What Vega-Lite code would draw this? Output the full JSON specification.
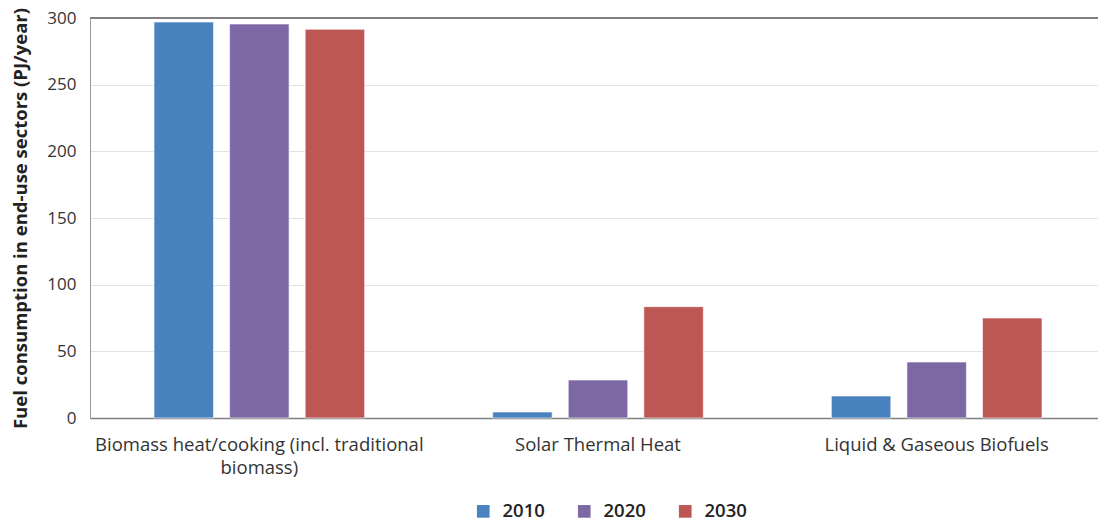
{
  "$schema": "https://vega.github.io/schema/vega-lite/v6.json",
  "autosize": "none",
  "width": 1008,
  "height": 400,
  "padding": {"left": 90, "top": 18, "right": 0, "bottom": 105},
  "background": "white",
  "config": {
    "font": "Open Sans",
    "view": {"stroke": null},
    "axis": {"labelColor": "#333333", "titleColor": "#222222"}
  },
  "data": {
    "values": [
      {"sector": "Biomass heat/cooking (incl. traditional biomass)", "year": "2010", "value": 297},
      {"sector": "Biomass heat/cooking (incl. traditional biomass)", "year": "2020", "value": 295.5},
      {"sector": "Biomass heat/cooking (incl. traditional biomass)", "year": "2030", "value": 291.5},
      {"sector": "Solar Thermal Heat", "year": "2010", "value": 4.5},
      {"sector": "Solar Thermal Heat", "year": "2020", "value": 28.5},
      {"sector": "Solar Thermal Heat", "year": "2030", "value": 83.5},
      {"sector": "Liquid & Gaseous Biofuels", "year": "2010", "value": 16.5},
      {"sector": "Liquid & Gaseous Biofuels", "year": "2020", "value": 42},
      {"sector": "Liquid & Gaseous Biofuels", "year": "2030", "value": 75}
    ]
  },
  "layer": [
    {
      "mark": {"type": "bar", "stroke": "white", "strokeWidth": 0.6},
      "encoding": {
        "x": {
          "field": "sector",
          "type": "nominal",
          "sort": null,
          "scale": {"paddingInner": 0, "paddingOuter": 0, "range": [0, 1016]},
          "axis": {
            "title": null,
            "labelAngle": 0,
            "labelFontSize": 18.5,
            "labelPadding": 17,
            "labelLineHeight": 23,
            "labelLimit": 0,
            "labelExpr": "indexof(datum.value, 'traditional') > 0 ? ['Biomass heat/cooking (incl. traditional', 'biomass)'] : datum.value",
            "ticks": false,
            "domainColor": "#808080",
            "domainWidth": 1.5
          }
        },
        "xOffset": {
          "field": "year",
          "type": "nominal",
          "scale": {"paddingInner": 0.213, "paddingOuter": 0.847}
        },
        "y": {
          "field": "value",
          "type": "quantitative",
          "scale": {"domain": [0, 300], "nice": false},
          "axis": {
            "title": "Fuel consumption in end-use sectors (PJ/year)",
            "titleFontSize": 18.5,
            "titleFontWeight": "bold",
            "titlePadding": 16,
            "values": [0, 50, 100, 150, 200, 250, 300],
            "labelFontSize": 17,
            "labelPadding": 14,
            "ticks": false,
            "gridColor": "#e2e2e2",
            "gridWidth": 1,
            "domainColor": "#9a9a9a"
          }
        },
        "color": {
          "field": "year",
          "type": "nominal",
          "scale": {"range": ["#4a81bf", "#7d68a5", "#bd5753"]},
          "legend": {
            "title": null,
            "orient": "none",
            "direction": "horizontal",
            "legendX": 384,
            "legendY": 484,
            "symbolType": "square",
            "symbolSize": 160,
            "symbolStrokeWidth": 0,
            "labelFontSize": 18.5,
            "labelFontWeight": 600,
            "labelColor": "#222222",
            "labelOffset": 10,
            "columnPadding": 30
          }
        }
      }
    },
    {
      "mark": {"type": "rule", "color": "#808080", "strokeWidth": 1.5},
      "encoding": {"y": {"datum": 300}}
    }
  ]
}
